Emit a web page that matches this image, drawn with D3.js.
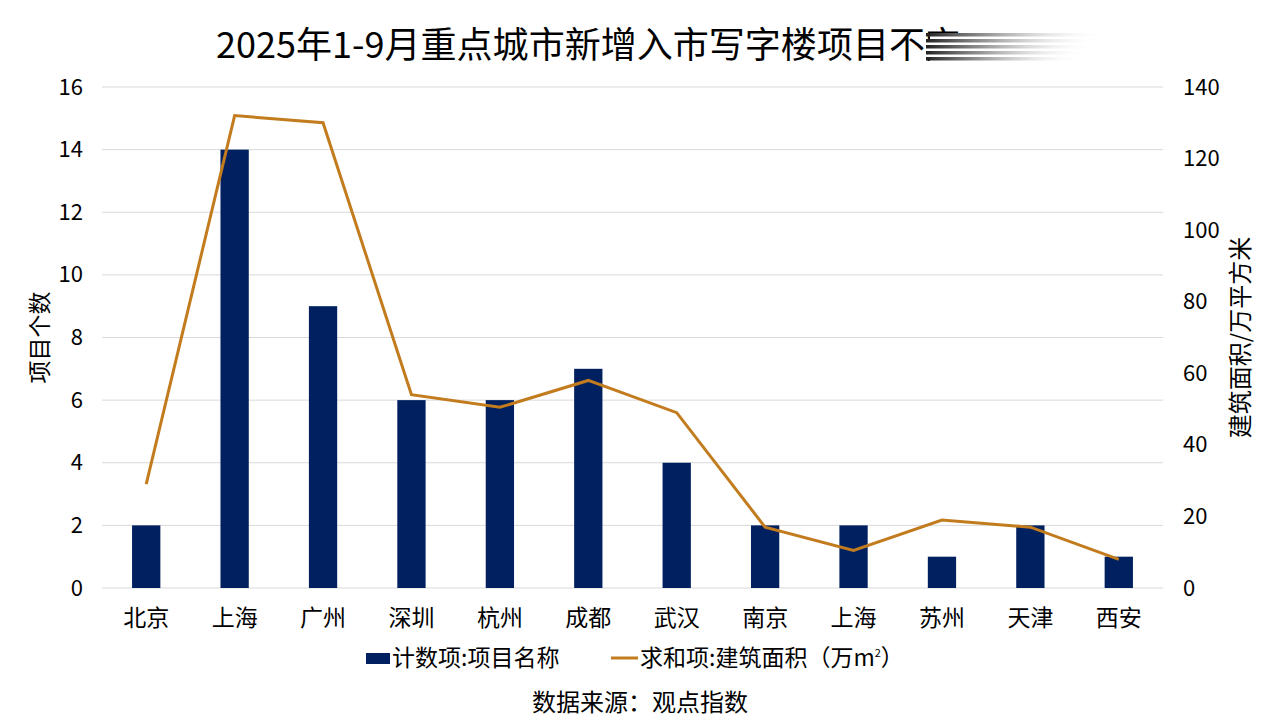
<!DOCTYPE html>
<html>
<head>
<meta charset="utf-8">
<script src="https://cdn.jsdelivr.net/npm/d3@7"></script>
<style>
  body { margin: 0; background: #fff; }
  text { font-family: "Noto Sans CJK SC", "Noto Sans", sans-serif; fill: #000; }
</style>
</head>
<body>
<div id="app"></div>
<script>
const WIDTH = 1280, HEIGHT = 720
const MARGIN = { top: 87, right: 117, bottom: 132, left: 102 }
const INNER = {
  width: WIDTH - MARGIN.left - MARGIN.right,
  height: HEIGHT - MARGIN.top - MARGIN.bottom,
}

const cities = ["北京", "上海", "广州", "深圳", "杭州", "成都", "武汉", "南京", "上海", "苏州", "天津", "西安"]
const projectCounts = [2, 14, 9, 6, 6, 7, 4, 2, 2, 1, 2, 1]
const floorArea = [29, 132, 130, 54, 50.5, 58, 49, 17, 10.5, 19, 17, 8]
const leftTicks = [0, 2, 4, 6, 8, 10, 12, 14, 16]
const rightTicks = [0, 20, 40, 60, 80, 100, 120, 140]

const BAR_COLOR = "#002060"
const LINE_COLOR = "#C27C1E"

const svg = d3.select("#app").append("svg")
  .attr("width", WIDTH)
  .attr("height", HEIGHT)

// title + fade overlay
const defs = svg.append("defs")
const fade = defs.append("linearGradient").attr("id", "fade")
fade.append("stop").attr("offset", "0%").attr("stop-color", "#222").attr("stop-opacity", 1)
fade.append("stop").attr("offset", "35%").attr("stop-color", "#555").attr("stop-opacity", 0.6)
fade.append("stop").attr("offset", "100%").attr("stop-color", "#fff").attr("stop-opacity", 0)

svg.append("text")
  .attr("x", 216).attr("y", 58)
  .attr("font-size", 36)
  .attr("textLength", 745)
  .attr("lengthAdjust", "spacingAndGlyphs")
  .text("2025年1-9月重点城市新增入市写字楼项目不完")

svg.append("rect").attr("x", 930).attr("y", 33).attr("width", 190).attr("height", 30).attr("fill", "#fff")
;[33, 39, 45, 51, 57].forEach((y, i) => {
  svg.append("rect")
    .attr("x", 926).attr("y", y)
    .attr("width", 180 - i * 6).attr("height", 3.5)
    .attr("fill", "url(#fade)")
})

const chart = svg.append("g")
  .attr("transform", `translate(${MARGIN.left}, ${MARGIN.top})`)

const xScale = d3.scaleBand()
  .domain(d3.range(cities.length))
  .range([0, INNER.width])
  .paddingInner(0.68)
  .paddingOuter(0.34)

const yLeft = d3.scaleLinear().domain([0, 16]).range([INNER.height, 0])
const yRight = d3.scaleLinear().domain([0, 140]).range([INNER.height, 0])

// grid lines
chart.append("g")
  .selectAll("line")
  .data(leftTicks)
  .join("line")
  .attr("x1", 0).attr("x2", INNER.width)
  .attr("y1", d => yLeft(d)).attr("y2", d => yLeft(d))
  .attr("stroke", "#d9d9d9")
  .attr("stroke-width", 1)

// left axis
const leftAxis = chart.append("g")
  .call(d3.axisLeft(yLeft).tickValues(leftTicks).tickSize(0).tickPadding(19))
leftAxis.select(".domain").remove()
leftAxis.selectAll("text").attr("font-size", 22).attr("fill", "#000")

// right axis
const rightAxis = chart.append("g")
  .attr("transform", `translate(${INNER.width}, 0)`)
  .call(d3.axisRight(yRight).tickValues(rightTicks).tickSize(0).tickPadding(20))
rightAxis.select(".domain").remove()
rightAxis.selectAll("text").attr("font-size", 22).attr("fill", "#000")

// bottom axis
const bottomAxis = chart.append("g")
  .attr("transform", `translate(0, ${INNER.height})`)
  .call(d3.axisBottom(xScale).tickFormat(i => cities[i]).tickSize(0).tickPadding(22))
bottomAxis.select(".domain").remove()
bottomAxis.selectAll("text").attr("font-size", 23).attr("fill", "#000")

// bars
chart.append("g")
  .selectAll("rect")
  .data(projectCounts)
  .join("rect")
  .attr("x", (d, i) => xScale(i))
  .attr("y", d => yLeft(d))
  .attr("width", xScale.bandwidth())
  .attr("height", d => INNER.height - yLeft(d))
  .attr("fill", BAR_COLOR)

// line
const line = d3.line()
  .x((d, i) => xScale(i) + xScale.bandwidth() / 2)
  .y(d => yRight(d))

chart.append("path")
  .datum(floorArea)
  .attr("d", line)
  .attr("fill", "none")
  .attr("stroke", LINE_COLOR)
  .attr("stroke-width", 3)
  .attr("stroke-linejoin", "miter")

// axis titles
svg.append("text")
  .attr("transform", `translate(48, ${MARGIN.top + INNER.height / 2}) rotate(-90)`)
  .attr("text-anchor", "middle")
  .attr("font-size", 23)
  .text("项目个数")

svg.append("text")
  .attr("transform", `translate(1249, ${MARGIN.top + INNER.height / 2}) rotate(-90)`)
  .attr("text-anchor", "middle")
  .attr("font-size", 24)
  .text("建筑面积/万平方米")

// legend
const legend = svg.append("g").attr("transform", "translate(0, 658)")
legend.append("rect")
  .attr("x", 366).attr("y", -5).attr("width", 24).attr("height", 11)
  .attr("fill", BAR_COLOR)
legend.append("text")
  .attr("x", 392).attr("y", 8)
  .attr("font-size", 23)
  .text("计数项:项目名称")
legend.append("line")
  .attr("x1", 611).attr("x2", 638).attr("y1", 0).attr("y2", 0)
  .attr("stroke", LINE_COLOR).attr("stroke-width", 3)
const legText = legend.append("text")
  .attr("x", 640).attr("y", 8)
  .attr("font-size", 23)
legText.append("tspan").text("求和项:建筑面积（万m")
legText.append("tspan").attr("font-size", 11).attr("dy", -9).text("2")
legText.append("tspan").attr("dy", 9).text("）")

// source
svg.append("text")
  .attr("x", 640).attr("y", 711)
  .attr("text-anchor", "middle")
  .attr("font-size", 24)
  .text("数据来源：观点指数")
</script>
</body>
</html>
